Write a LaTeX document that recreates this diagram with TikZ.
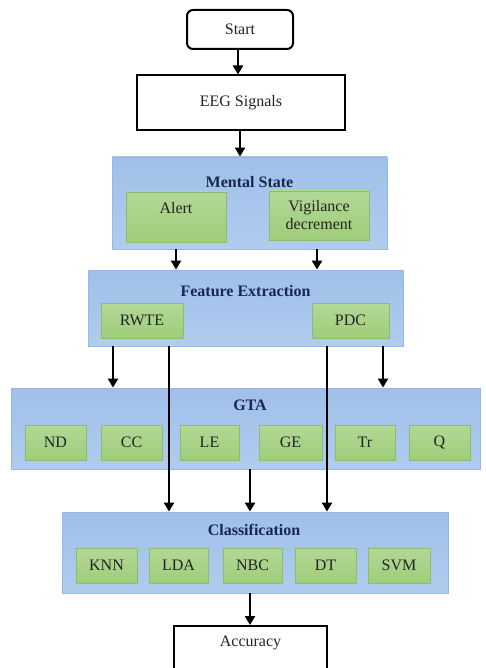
\documentclass[tikz,border=0pt]{standalone}
\usepackage{fontspec}
\setmainfont{Liberation Serif}
\usetikzlibrary{arrows.meta}
\definecolor{bluefill}{RGB}{168,198,236}
\definecolor{bluetop}{RGB}{160,192,234}
\definecolor{bluebot}{RGB}{176,204,238}
\definecolor{blueedge}{RGB}{150,185,228}
\definecolor{greentop}{RGB}{178,216,150}
\definecolor{greenbot}{RGB}{160,205,122}
\definecolor{greenedge}{RGB}{140,190,105}
\definecolor{titlecol}{RGB}{25,40,80}
\definecolor{txt}{RGB}{35,35,35}
\tikzset{
  blk/.style={draw=black, line width=2pt, fill=white, inner sep=0pt, text=txt,
    font=\rmfamily\fontsize{16}{19}\selectfont},
  panel/.style={draw=blueedge, line width=0.8pt, top color=bluetop, bottom color=bluebot, inner sep=0pt},
  sub/.style={draw=greenedge, line width=0.6pt, top color=greentop, bottom color=greenbot,
    inner sep=0pt, text=txt, font=\rmfamily\fontsize{16}{19}\selectfont, align=center},
  ttl/.style={text=titlecol, font=\rmfamily\fontsize{16}{19}\selectfont\bfseries, inner sep=0pt},
  lbl/.style={text=txt, font=\rmfamily\fontsize{16}{19}\selectfont, inner sep=0pt},
  arr/.style={line width=2.3pt, -{Triangle[length=9pt,width=10pt]}}
}
\begin{document}
\begin{tikzpicture}[x=1pt,y=-1pt]
\useasboundingbox (0,0) rectangle (485,668);
\clip (0,0) rectangle (485,668);
% top boxes
\node[blk, rounded corners=6pt, minimum width=106pt, minimum height=39pt] (start) at (240,29.5) {Start};
\node[blk, minimum width=208pt, minimum height=55pt] (eeg) at (241,103) {EEG Signals};
% panels
\node[panel, minimum width=275pt, minimum height=92pt] (mental) at (249.5,203) {};
\node[panel, minimum width=315pt, minimum height=76pt] (fe) at (245.5,308) {};
\node[panel, minimum width=469pt, minimum height=81pt] (gta) at (245.5,428.5) {};
\node[panel, minimum width=386pt, minimum height=81pt] (cls) at (255,552.5) {};
\node[blk, minimum width=153pt, minimum height=52pt] (acc) at (250.5,652) {};
\node[lbl] (acctxt) at (250.5,643) {Accuracy};
% titles
\node[ttl] (tmental) at (249.5,182) {Mental State};
\node[ttl] (tfe) at (245.5,291) {Feature Extraction};
\node[ttl] (tgta) at (250,405) {GTA};
\node[ttl] (tcls) at (254,530) {Classification};
% sub boxes
\node[sub, minimum width=100pt, minimum height=50pt] (alert) at (176,217) {};
\node[lbl] (alerttxt) at (176,208) {Alert};
\node[sub, minimum width=100pt, minimum height=49pt, font=\rmfamily\fontsize{16}{18}\selectfont] (vig) at (319,215.5) {Vigilance\\decrement};
\node[sub, minimum width=82pt, minimum height=35pt] (rwte) at (142,320.5) {RWTE};
\node[sub, minimum width=77pt, minimum height=35pt] (pdc) at (350.5,320.5) {PDC};
\node[sub, minimum width=61pt, minimum height=35pt] (nd) at (55.5,442.5) {ND};
\node[sub, minimum width=61pt, minimum height=35pt] (cc) at (131.5,442.5) {CC};
\node[sub, minimum width=59pt, minimum height=35pt] (le) at (209.5,442.5) {LE};
\node[sub, minimum width=63pt, minimum height=35pt] (ge) at (290.5,442.5) {GE};
\node[sub, minimum width=60pt, minimum height=35pt] (tr) at (365,442.5) {Tr};
\node[sub, minimum width=61pt, minimum height=35pt] (q) at (439.5,442.5) {Q};
\node[sub, minimum width=61pt, minimum height=35pt] (knn) at (106.5,565.5) {KNN};
\node[sub, minimum width=59pt, minimum height=35pt] (lda) at (178.5,565.5) {LDA};
\node[sub, minimum width=59pt, minimum height=35pt] (nbc) at (252.5,565.5) {NBC};
\node[sub, minimum width=61pt, minimum height=35pt] (dt) at (325.5,565.5) {DT};
\node[sub, minimum width=62pt, minimum height=35pt] (svm) at (399,565.5) {SVM};
% connector x positions
\coordinate (xs) at (238,0);
\coordinate (xe) at (240,0);
\coordinate (xv) at (317,0);
\coordinate (xa) at (113,0);
\coordinate (xb) at (169,0);
\coordinate (xc) at (327,0);
\coordinate (xd) at (383,0);
\coordinate (xm) at (250,0);
% connectors
\draw[arr] (start.south -| xs) -- (eeg.north -| xs);
\draw[arr] (eeg.south -| xe) -- (mental.north -| xe);
\draw[arr] (mental.south -| alert) -- (fe.north -| alert);
\draw[arr] (mental.south -| xv) -- (fe.north -| xv);
\draw[arr] (fe.south -| xa) -- (gta.north -| xa);
\draw[arr] (fe.south -| xd) -- (gta.north -| xd);
\draw[arr] (fe.south -| xb) -- (cls.north -| xb);
\draw[arr] (fe.south -| xc) -- (cls.north -| xc);
\draw[arr] (gta.south -| xm) -- (cls.north -| xm);
\draw[arr] (cls.south -| xm) -- (acc.north -| xm);
\end{tikzpicture}
\end{document}
